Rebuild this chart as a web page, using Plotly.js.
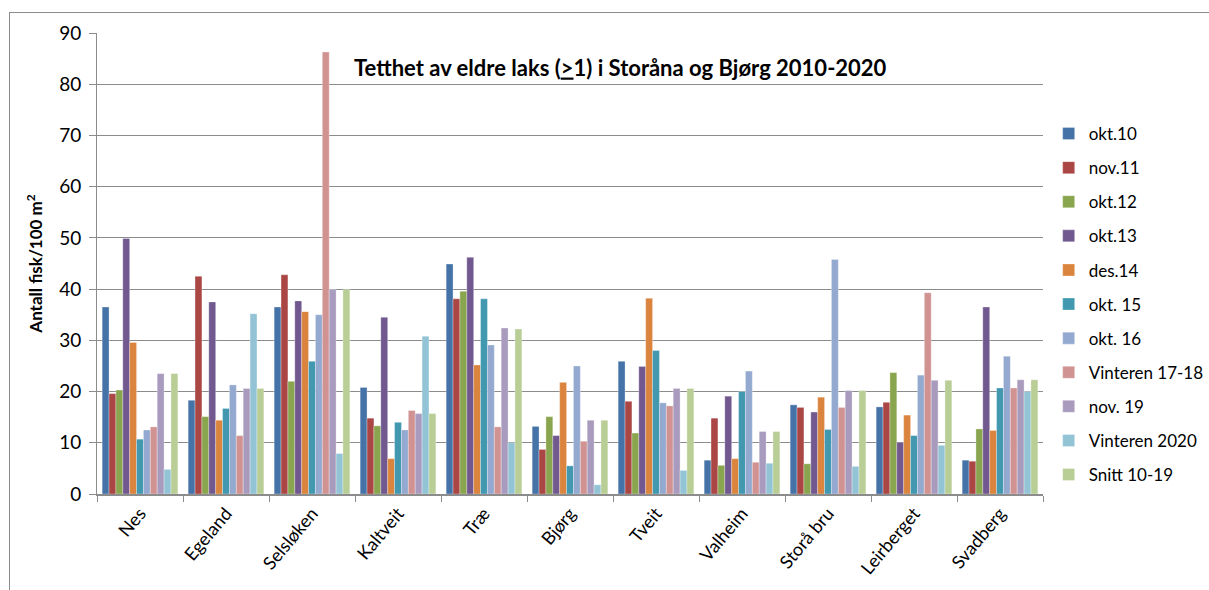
<!DOCTYPE html>
<html>
<head>
<meta charset="utf-8">
<script src="https://cdn.plot.ly/plotly-3.0.1.min.js"></script>
<style>
  html, body { margin: 0; padding: 0; background: #fff; }
  #chart { width: 1209px; height: 590px; }
  #frame { position: absolute; left: 9px; top: 12px; width: 1300px; height: 700px; border: 1px solid #8c8c8c; pointer-events: none; }
</style>
</head>
<body>
<div id="chart"></div>
<div id="frame"></div>
<script>
const stations = ["Nes", "Egeland", "Selsløken", "Kaltveit", "Træ", "Bjørg", "Tveit", "Valheim", "Storå bru", "Leirberget", "Svadberg"];

const okt10   = [36.5, 18.3, 36.5, 20.8, 44.9, 13.2, 25.9,  6.6, 17.4, 17.0,  6.6];
const nov11   = [19.6, 42.5, 42.8, 14.8, 38.1,  8.7, 18.1, 14.8, 16.9, 17.9,  6.4];
const okt12   = [20.3, 15.1, 22.0, 13.3, 39.6, 15.1, 11.9,  5.6,  5.9, 23.7, 12.7];
const okt13   = [49.9, 37.5, 37.7, 34.5, 46.2, 11.4, 24.9, 19.1, 16.0, 10.1, 36.5];
const des14   = [29.6, 14.4, 35.6,  6.9, 25.2, 21.8, 38.2,  6.9, 18.9, 15.4, 12.4];
const okt15   = [10.7, 16.7, 25.9, 14.0, 38.1,  5.5, 28.0, 20.0, 12.6, 11.4, 20.7];
const okt16   = [12.5, 21.3, 35.0, 12.5, 29.1, 25.0, 17.8, 24.0, 45.8, 23.2, 26.9];
const vint1718= [13.1, 11.4, 86.3, 16.3, 13.1, 10.3, 17.2,  6.2, 16.9, 39.3, 20.7];
const nov19   = [23.5, 20.6, 39.9, 15.7, 32.4, 14.4, 20.6, 12.2, 20.2, 22.2, 22.3];
const vint2020= [ 4.8, 35.2,  7.9, 30.8, 10.0,  1.8,  4.6,  6.0,  5.4,  9.5, 20.0];
const snitt   = [23.5, 20.6, 39.9, 15.7, 32.2, 14.4, 20.6, 12.2, 20.2, 22.2, 22.3];

const seriesNames = ["okt.10", "nov.11", "okt.12", "okt.13", "des.14", "okt. 15", "okt. 16", "Vinteren 17-18", "nov. 19", "Vinteren 2020", "Snitt 10-19"];
const seriesValues = [okt10, nov11, okt12, okt13, des14, okt15, okt16, vint1718, nov19, vint2020, snitt];
const seriesColors = ["#4572A7", "#AA4643", "#89A54E", "#71588F", "#DB843D", "#4198AF", "#93A9CF", "#D19392", "#A99BBD", "#92C4D5", "#B9CD96"];

const FONT = "Lato, 'Open Sans', sans-serif";

const traces = seriesNames.map((name, i) => ({
  type: "bar",
  name: name,
  x: stations,
  y: seriesValues[i],
  legendgroup: "g" + i,
  marker: { color: seriesColors[i], line: { color: "rgba(255,255,255,0.6)", width: 0.5 } },
  hoverinfo: "x+y+name"
}));

const layout = {
  width: 1209,
  height: 590,
  margin: { l: 97, r: 166, t: 33, b: 96, autoexpand: false },
  paper_bgcolor: "#fff",
  plot_bgcolor: "#fff",
  barmode: "group",
  bargap: 0.12,
  bargroupgap: 0,
  font: { family: FONT, color: "#000" },
  title: {
    text: "<b>Tetthet av eldre laks (<u>&gt;</u>1) i Storåna og Bjørg 2010-2020</b>",
    font: { family: FONT, size: 22, color: "#000" },
    x: 0.513, xanchor: "center",
    y: 0.885, yanchor: "middle"
  },
  xaxis: {
    type: "category",
    tickangle: -50,
    tickfont: { family: FONT, size: 18, color: "#000" },
    showline: true, linecolor: "#8c8c8c", linewidth: 2,
    ticks: "outside", tickson: "boundaries", ticklen: 6, tickcolor: "#8c8c8c",
    showgrid: false,
    range: [-0.5, 10.5],
    automargin: false
  },
  yaxis: {
    range: [0, 90],
    dtick: 10,
    tickfont: { family: FONT, size: 19, color: "#000" },
    showline: true, linecolor: "#8c8c8c", linewidth: 1,
    ticks: "outside", ticklen: 7, tickcolor: "#8c8c8c",
    ticklabelstandoff: 4,
    showgrid: true, gridcolor: "#8c8c8c", gridwidth: 1,
    zeroline: false,
    automargin: false,
    title: { text: "<b>Antall fisk/100 m<sup>2</sup></b>", font: { family: FONT, size: 17, color: "#000" }, standoff: 12 }
  },
  legend: {
    x: 1.006, xanchor: "left",
    y: 0.82, yanchor: "top",
    font: { family: FONT, size: 17, color: "#000" },
    tracegroupgap: 9,
    itemwidth: 30,
    bgcolor: "rgba(0,0,0,0)"
  },
  showlegend: true
};

Plotly.newPlot("chart", traces, layout, { displayModeBar: false, staticPlot: true });
</script>
</body>
</html>
